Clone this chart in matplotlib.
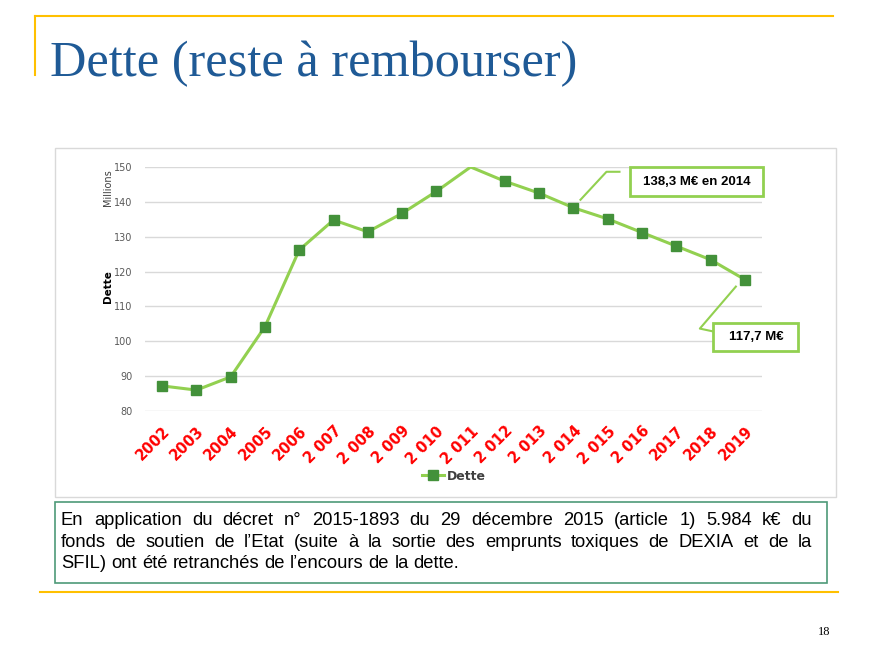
import matplotlib
matplotlib.use("Agg")
import matplotlib.pyplot as plt
from matplotlib.patches import Rectangle

# data (millions of euros)
years = ["2002", "2003", "2004", "2005", "2006", "2 007", "2 008", "2 009", "2 010",
         "2 011", "2 012", "2 013", "2 014", "2 015", "2 016", "2017", "2018", "2019"]
dette = [87.2, 86.0, 89.8, 104.2, 126.2, 134.8, 131.4, 136.7, 143.0,
         150.0, 145.9, 142.5, 138.3, 135.1, 131.2, 127.3, 123.4, 117.7]
y_ticks = [80, 90, 100, 110, 120, 130, 140, 150]

title = "Dette (reste à rembourser)"
note_lines = [
    "En application du décret n° 2015-1893 du 29 décembre 2015 (article 1) 5.984 k€ du",
    "fonds de soutien de l’Etat (suite à la sortie des emprunts toxiques de DEXIA et de la",
    "SFIL) ont été retranchés de l’encours de la dette.",
]

LINE_GREEN = "#92D050"
MARK_GREEN = "#43913A"
YELLOW = "#FFC000"
W, H = 883, 655

fig = plt.figure(figsize=(W / 100, H / 100), dpi=100)

# background axes in pixel coordinates for slide decoration
bg = fig.add_axes([0, 0, 1, 1])
bg.set_xlim(0, W)
bg.set_ylim(H, 0)
bg.axis("off")

# yellow frame lines
bg.plot([35, 833], [16, 16], color=YELLOW, lw=1.5)
bg.plot([35, 35], [16, 75], color=YELLOW, lw=1.5)
bg.plot([40, 838], [592, 592], color=YELLOW, lw=1.5)

bg.text(50, 76, title, fontsize=36.3, family="Liberation Serif", color="#1F5A96",
        ha="left", va="baseline")

# chart border
bg.add_patch(Rectangle((55, 148), 781, 349, fill=False, ec="#D9D9D9", lw=1))

# note box
bg.add_patch(Rectangle((55, 502), 772, 81, fill=False, ec="#4E9A78", lw=1.2))

bg.text(830, 632, "18", fontsize=9, family="Liberation Serif", ha="right", va="center")

# chart axes
ax = fig.add_axes([145 / W, 1 - 411 / H, 617 / W, 244 / H])
ax.set_facecolor("none")
x = list(range(len(years)))
marks = [i for i in x if dette[i] < 150]
ax.plot(x, dette, color=LINE_GREEN, lw=2.2, marker="s", ms=7.5,
        mfc=MARK_GREEN, mec=MARK_GREEN, markevery=marks, label="Dette", zorder=3)
ax.set_xlim(-0.5, len(years) - 0.5)
ax.set_ylim(80, 150)
ax.set_yticks(y_ticks)
ax.set_xticks(x)
ax.set_xticklabels(years, rotation=45, ha="right", va="top", rotation_mode="anchor",
                   color="#FF0000", fontweight="bold", fontsize=10.5)
ax.tick_params(axis="x", length=0, pad=9)
ax.tick_params(axis="y", length=0, pad=9, labelsize=7, labelcolor="#595959")
ax.grid(axis="y", color="#D9D9D9", lw=1)
ax.set_axisbelow(True)
for s in ax.spines.values():
    s.set_visible(False)

bg.text(108, 188, "Millions", rotation=90, fontsize=7, color="#404040", ha="center", va="center")
bg.text(108, 287, "Dette", rotation=90, fontsize=7.5, fontweight="bold", ha="center", va="center")

leg = ax.legend(loc="upper center", bbox_to_anchor=(0.5, -0.195), frameon=False,
                handlelength=1.8, handletextpad=0.2,
                prop={"weight": "bold", "size": 9})
for t in leg.get_texts():
    t.set_color("#404040")


# callouts: leader path and box centre are pixel offsets from the data point
def callout(i, label, path, center, box_w, box_h):
    px, py = ax.transData.transform((x[i], dette[i]))
    inv = ax.transData.inverted()
    pts = [inv.transform((px + dx, py + dy)) for dx, dy in path]
    ax.plot([p[0] for p in pts], [p[1] for p in pts], color=LINE_GREEN, lw=1.5,
            clip_on=False, zorder=4)
    cx, cy = px + center[0], py + center[1]
    fig.patches.append(Rectangle((cx - box_w / 2, cy - box_h / 2), box_w, box_h,
                                 fc="white", ec=LINE_GREEN, lw=2, transform=None,
                                 zorder=5))
    fig.text(cx, cy, label, transform=None, ha="center", va="center",
             fontsize=9.5, fontweight="bold", family="Liberation Sans", zorder=6)


callout(12, "138,3 M€ en 2014", [(7, 8), (33, 36), (46, 36)], (123, 26), 133, 29)
callout(17, "117,7 M€", [(-9, -7), (-45, -49), (-31, -52)], (11, -57), 85, 28)

# justified note text
NOTE_FS = 13.2
renderer = fig.canvas.get_renderer()
left, right = 61, 812
base = [525, 547, 568]
for k, line in enumerate(note_lines):
    words = line.split(" ")
    arts = [bg.text(0, base[k], w, fontsize=NOTE_FS, family="Liberation Sans",
                    ha="left", va="baseline") for w in words]
    widths = [a.get_window_extent(renderer).width for a in arts]
    if k < len(note_lines) - 1:
        gap = (right - left - sum(widths)) / (len(words) - 1)
    else:
        sp = bg.text(0, 0, "a a", fontsize=NOTE_FS, family="Liberation Sans")
        sa = bg.text(0, 0, "aa", fontsize=NOTE_FS, family="Liberation Sans")
        gap = sp.get_window_extent(renderer).width - sa.get_window_extent(renderer).width
        sp.remove()
        sa.remove()
    cur = left
    for a, w in zip(arts, widths):
        a.set_x(cur)
        cur += w + gap

fig.savefig("out.png", dpi=100)
